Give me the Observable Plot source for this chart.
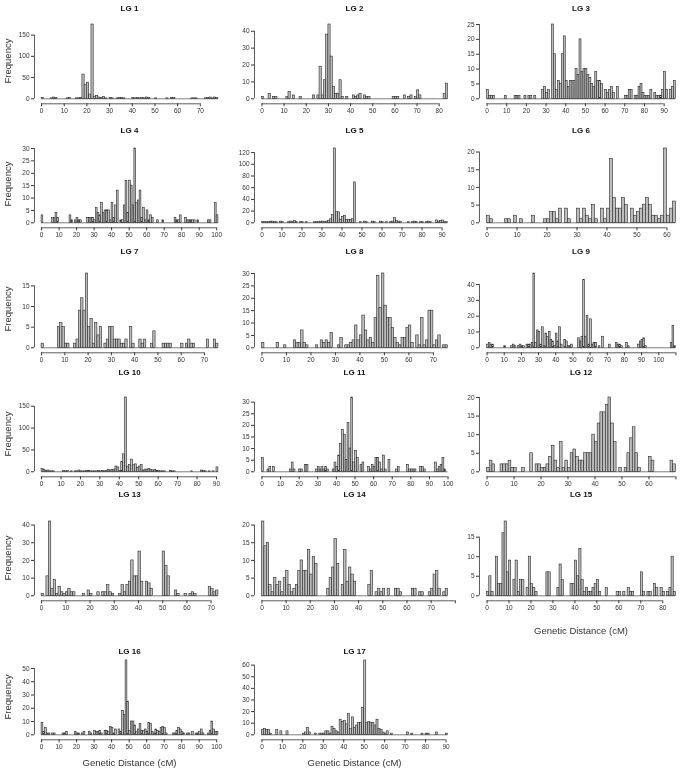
<!DOCTYPE html>
<html><head><meta charset="utf-8">
<script src="https://cdn.jsdelivr.net/npm/d3@7"></script>
<script src="https://cdn.jsdelivr.net/npm/@observablehq/plot@0.6"></script>
<style>
body{margin:0;background:#fff;}
#chart{position:relative;width:689px;height:773px;overflow:hidden;font-family:"Liberation Sans",Arial,sans-serif;color:#222;filter:grayscale(1);}
.panel{position:absolute;}
.lbl{position:absolute;white-space:nowrap;transform:translate(-50%,-50%);}
.title{font-weight:bold;font-size:8px;color:#111;}
.axt{font-size:9.5px;color:#333;}
</style></head><body><div id="chart"></div>
<script>
// Counts per 1-cM bin (bin i covers [i, i+1))
const lg1 = [2,0,0,0,1,3,2,0,0,0, 0,1,2,0,0,1,1,2,57,32, 38,10,175,5,7,3,2,4,1,0, 2,1,0,1,2,2,1,0,0,0, 2,1,2,1,2,1,3,2,0,0, 1,0,0,0,0,1,0,2,2,0, 0,0,0,0,0,0,1,1,1,0, 0,0,1,2,3,1,3,2];
const lg2 = [1,0,0,3,0,1,1,0,0,0, 0,1,4,0,2,0,0,1,0,0, 0,0,0,2,0,2,19,2,11,38, 44,25,7,3,3,11,1,0,1,0, 0,2,1,2,3,0,2,1,1,0, 0,0,0,0,0,0,0,0,0,1, 1,1,0,0,2,0,1,2,0,1, 5,2,0,0,0,0,0,0,0,0, 0,0,3,9];
const lg3 = [3,1,1,1,0,0,0,0,0,1, 0,0,0,0,1,1,1,0,0,1, 0,1,1,0,1,0,0,0,3,4, 2,3,0,25,15,3,6,5,15,21, 6,4,6,6,6,10,8,20,9,10, 10,8,7,5,4,9,6,6,5,0, 3,2,3,4,2,0,4,0,0,0, 1,1,3,3,0,1,1,4,5,2, 1,1,1,3,0,2,1,1,1,3, 9,3,0,3,4,6];
const lg4 = [3,0,0,0,0,0,2,2,4,2, 0,0,0,0,0,0,3,1,0,1, 2,1,1,0,0,0,2,2,2,2, 1,6,4,3,8,4,5,5,5,1, 8,2,7,13,0,1,1,7,17,4, 17,15,7,30,8,9,13,2,6,1, 5,1,3,2,0,0,1,0,0,1, 0,0,0,0,0,0,2,1,1,3, 0,0,2,1,1,1,1,1,0,1, 0,0,0,0,0,1,1,0,0,8,3];
const lg5 = [1,1,1,1,2,2,1,1,0,2, 1,0,0,1,2,1,3,1,0,1, 1,0,1,0,0,0,1,1,1,2, 2,1,2,3,6,13,127,18,18,5, 10,12,5,5,5,6,69,0,0,1, 0,2,1,0,0,2,1,0,0,2, 1,0,1,0,1,2,8,3,1,2, 0,0,0,1,0,1,2,1,0,1, 1,0,1,2,1,0,0,4,2,3, 4,1,1];
const lg6 = [2,1,0,0,0,0,1,1,0,2, 0,1,0,0,0,2,0,0,0,1, 1,3,3,1,4,0,4,1,0,0, 4,1,4,2,1,5,1,0,4,1, 4,18,7,4,4,7,5,0,4,2, 3,4,5,7,5,2,2,1,2,21, 2,4,6];
const lg7 = [1,0,0,0,0,0,0,5,6,5, 1,1,0,0,1,2,9,12,9,18, 5,7,1,6,3,5,0,1,2,5, 5,2,2,2,1,1,2,0,5,1, 0,0,2,1,2,0,0,1,4,0, 0,0,1,1,1,1,0,0,0,0, 1,0,1,2,1,1,0,0,0,0, 0,2,0,0,2,1];
const lg8 = [2,0,0,0,0,0,2,0,0,1, 0,0,0,3,2,2,7,2,1,0, 0,0,1,0,3,2,3,2,6,0, 0,1,4,0,1,1,2,3,9,3, 5,13,7,3,4,2,12,29,16,30, 17,12,12,8,4,2,1,4,4,8, 9,2,0,5,1,12,1,3,15,15, 1,3,5,0,1,1];
const lg9 = [2,3,2,2,0,0,0,0,0,0, 1,0,0,0,1,2,1,0,1,2, 1,1,0,2,2,2,3,47,3,11, 10,2,13,1,9,7,10,5,4,1, 9,4,13,2,0,5,4,1,1,2, 0,0,0,6,4,7,43,7,20,2, 18,2,3,3,0,1,0,7,0,0, 0,2,0,0,0,3,2,2,1,0, 0,3,1,0,0,0,0,0,2,4, 5,6,1,0,0,0,0,0,0,0, 0,0,0,0,0,0,0,3,14,1];
const lg10 = [6,4,2,3,1,1,1,0,0,0, 0,2,1,2,0,1,0,1,1,3, 1,1,1,2,2,1,1,1,1,2, 1,2,1,2,4,3,4,5,12,10, 2,22,40,170,12,16,28,15,17,9, 12,16,3,5,5,6,4,3,4,2, 2,1,1,1,0,0,2,1,1,0, 0,0,0,0,0,0,0,1,0,0, 0,0,3,2,1,0,1,0,1,0, 10];
const lg11 = [6,0,0,1,2,0,2,0,0,0, 0,0,0,0,0,1,4,1,0,0, 1,1,0,3,3,0,0,0,0,1, 2,1,2,1,2,1,0,0,1,4, 2,7,12,18,16,5,21,10,32,4, 9,6,0,3,4,0,0,2,1,3, 2,6,6,4,1,7,1,0,5,0, 0,0,1,2,0,0,0,0,3,1, 1,1,1,0,0,2,2,1,0,0, 0,0,0,4,1,2,3,6,1,0];
const lg12 = [1,3,2,0,0,2,2,2,3,1, 1,0,0,1,0,0,5,0,2,2, 1,1,2,4,7,3,1,8,1,3, 1,5,6,4,3,3,5,5,5,10, 8,13,16,16,18,20,13,8,0,1, 0,1,5,9,12,5,1,0,0,0, 4,3,0,0,0,0,0,0,3,2];
const lg13 = [1,0,11,42,4,9,1,5,2,1, 2,4,2,2,0,0,0,1,0,3, 1,0,0,2,0,2,2,6,2,1, 0,0,1,6,2,6,8,20,11,11, 25,8,0,8,7,4,0,0,0,0, 25,17,11,0,0,3,1,0,0,1, 0,1,2,1,0,0,0,0,0,5, 4,2,3];
const lg14 = [21,14,15,3,1,5,3,4,1,5, 7,3,1,2,3,7,10,7,7,13, 6,11,9,0,0,0,0,2,5,8, 16,9,0,3,13,4,8,6,4,0, 0,0,0,0,3,7,0,1,2,1, 2,0,2,0,0,2,2,1,0,0, 0,0,2,2,0,1,1,0,0,1, 2,6,7,2,0,1,2];
const lg15 = [1,5,1,0,10,3,3,16,19,6, 9,0,4,9,1,4,4,0,2,10, 3,2,1,0,0,0,0,6,6,0, 0,0,2,8,4,0,0,0,3,3, 9,5,12,4,1,2,1,1,2,3, 4,1,0,0,2,0,0,0,0,1, 1,0,1,0,2,1,1,0,0,0, 6,1,0,1,1,0,3,2,0,2, 1,0,1,2,10,1];
const lg16 = [9,2,5,1,1,0,1,1,0,0, 0,0,1,1,2,0,0,0,0,2, 1,1,0,1,2,0,0,2,1,0, 3,2,2,3,1,0,3,3,2,6, 5,1,4,0,4,2,18,15,56,25, 3,10,10,7,2,4,8,3,3,4, 2,9,8,2,1,4,3,2,5,6, 5,1,0,0,0,1,1,3,5,4, 2,1,0,1,1,0,2,0,1,1, 2,4,1,0,0,1,3,10,4,2,2];
const lg17 = [4,5,4,4,1,0,0,4,0,3, 0,0,3,0,0,0,0,0,0,0, 1,2,6,2,0,0,1,0,1,1, 1,3,3,1,7,5,3,2,13,11, 12,9,18,5,15,6,8,10,10,23, 64,10,11,10,10,8,13,5,4,2, 1,3,0,1,0,0,0,0,0,0, 0,2,0,1,0,0,0,0,1,0, 1,1,0,0,0,2,0,0,0,0, 1];

const names = ["LG 1","LG 2","LG 3","LG 4","LG 5","LG 6","LG 7","LG 8","LG 9","LG 10","LG 11","LG 12","LG 13","LG 14","LG 15","LG 16","LG 17"];
const counts = [lg1,lg2,lg3,lg4,lg5,lg6,lg7,lg8,lg9,lg10,lg11,lg12,lg13,lg14,lg15,lg16,lg17];

// Axis ticks (every 10 cM) and the last tick that carries a label
const xTickMax  = [70, 80, 90, 100, 90, 60, 70, 70, 110, 90, 100, 70, 70, 80, 80, 100, 90];
const xLabelMax = [70, 80, 90, 100, 90, 60, 70, 70, 100, 90, 100, 60, 70, 70, 80, 100, 90];
const yTicks = [
  [0,50,100,150],
  [0,10,20,30,40],
  [0,5,10,15,20,25],
  [0,5,10,15,20,25,30],
  [0,20,40,60,80,100,120],
  [0,5,10,15,20],
  [0,5,10,15],
  [0,5,10,15,20,25,30],
  [0,10,20,30,40],
  [0,50,100,150],
  [0,5,10,15,20,25,30],
  [0,5,10,15,20],
  [0,10,20,30,40],
  [0,5,10,15,20],
  [0,5,10,15],
  [0,10,20,30,40,50],
  [0,10,20,30,40,50,60]
];
const withXLabel = ["LG 15","LG 16","LG 17"];
const yLabel = "Frequency";
const xLabel = "Genetic Distance (cM)";

// Layout
const colLeft = [0, 229, 459];
const colW = [229, 230, 230];
const mL = [34, 25, 20];
const mR = [4, 4, 6];
const baseY = [98.7, 222.3, 347, 471.7, 595.7, 734.7];
const titleY = [7.5, 130, 251, 372, 494, 651];
const DATA_H = 74.3, PAD_Y = 5, MT = 4, MB = 18;
const AX = "#333";

const chart = document.getElementById("chart");
function addLabel(text, x, y, cls, rot) {
  const d = document.createElement("div");
  d.className = "lbl " + cls;
  d.textContent = text;
  d.style.left = x + "px";
  d.style.top = y + "px";
  if (rot) d.style.transform = "translate(-50%,-50%) rotate(-90deg)";
  chart.appendChild(d);
}

counts.forEach((c, i) => {
  const row = Math.floor(i / 3), col = i % 3;
  const n = c.length, M = d3.max(c);
  const xt = d3.range(0, xTickMax[i] + 1, 10), yt = yTicks[i];
  const lmax = xLabelMax[i];
  const yLo = -M * PAD_Y / DATA_H;
  const xLo = -0.04 * n, xHi = 1.04 * n;
  const bins = c.map((v, k) => ({x1: k, x2: k + 1, lo: 0, y: v})).filter(d => d.y > 0);
  const H = MT + DATA_H + PAD_Y + MB;
  const svg = Plot.plot({
    width: colW[col], height: H,
    marginTop: MT, marginBottom: MB, marginLeft: mL[col], marginRight: mR[col],
    style: {background: "transparent", fontFamily: "'Liberation Sans', Arial, sans-serif", overflow: "visible"},
    x: {domain: [xLo, Math.max(xHi, xt[xt.length - 1])], label: null},
    y: {domain: [yLo, M], label: null},
    marks: [
      Plot.ruleY([{y: 0, a: 0, b: n}], {y: "y", x1: "a", x2: "b", stroke: "#444", strokeWidth: 0.7}),
      Plot.rect(bins, {x1: "x1", x2: "x2", y1: "lo", y2: "y", fill: "#bdbdbd", stroke: "#2a2a2a", strokeWidth: 0.6}),
      Plot.ruleY([{y: yLo, a: xt[0], b: xt[xt.length - 1]}], {y: "y", x1: "a", x2: "b", stroke: AX, strokeWidth: 0.8}),
      Plot.ruleX([{x: xLo, a: yt[0], b: yt[yt.length - 1]}], {x: "x", y1: "a", y2: "b", stroke: AX, strokeWidth: 0.8}),
      Plot.axisX(xt, {tickSize: 3, tickPadding: 2, fontSize: 6.5, color: AX, label: null,
        tickFormat: d => (d <= lmax ? String(d) : "")}),
      Plot.axisY(yt, {tickSize: 3, tickPadding: 2, fontSize: 6.5, color: AX, label: null})
    ]
  });
  const wrap = document.createElement("div");
  wrap.className = "panel";
  wrap.style.left = colLeft[col] + "px";
  wrap.style.top = (baseY[row] - DATA_H - MT) + "px";
  wrap.appendChild(svg);
  chart.appendChild(wrap);
  const cx = colLeft[col] + (mL[col] + colW[col] - mR[col]) / 2;
  addLabel(names[i], cx, titleY[row], "title");
  if (col === 0) addLabel(yLabel, 7, baseY[row] - 38, "axt", true);
  if (withXLabel.includes(names[i])) addLabel(xLabel, cx, baseY[row] + (row === 5 ? 27.5 : 34), "axt");
});
</script></body></html>
